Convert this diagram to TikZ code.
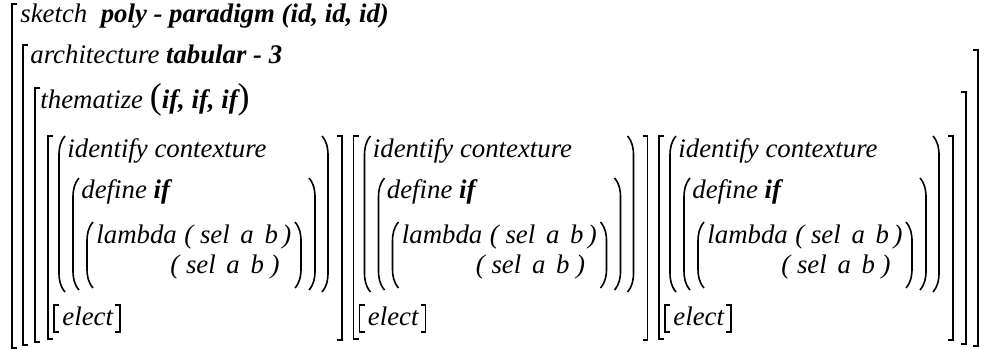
\documentclass[tikz,border=0pt]{standalone}
\usepackage{fontspec}
\setmainfont{Liberation Serif}[ItalicFont={Liberation Serif Italic}, BoldItalicFont={Liberation Serif Bold Italic}]

% square brackets and tall parentheses: x, top, bottom
\newcommand{\lbk}[3]{\draw[brk] ({#1+5},#2) -| ({#1},#3) -- ++(5,0);}
\newcommand{\rbk}[3]{\draw[brk] ({#1-5},#2) -| ({#1},#3) -- ++(-5,0);}
\newcommand{\lpn}[3]{\draw[prn] ({#1+6},#2) .. controls ({#1+1},{#2+6}) and ({#1},{#2+12}) .. ({#1},{#2+20})
  -- ({#1},{#3-20}) .. controls ({#1},{#3-12}) and ({#1+1},{#3-6}) .. ({#1+6},#3);}
\newcommand{\rpn}[3]{\draw[prn] ({#1-6},#2) .. controls ({#1-1},{#2+6}) and ({#1},{#2+12}) .. ({#1},{#2+20})
  -- ({#1},{#3-20}) .. controls ({#1},{#3-12}) and ({#1-1},{#3-6}) .. ({#1-6},#3);}

\begin{document}
\begin{tikzpicture}[
  x=0.5pt, y=-0.5pt,
  txt/.style={anchor=base west, inner sep=0pt, font=\fontsize{13.4}{15}\selectfont\itshape},
  brk/.style={line width=0.9pt},
  prn/.style={line width=0.8pt},
]
\useasboundingbox (0,0) rectangle (984,349);

% Header lines
\node[txt] (sketch) at (20,22) {sketch\ \ \textbf{poly - paradigm (id, id, id)}};
\node[txt] (arch) at (30,63) {architecture \textbf{tabular - 3}};
\node[txt] (them) at (40,108) {thematize {\fontsize{18}{18}\selectfont\upshape(}\textbf{if, if, if}{\fontsize{18}{18}\selectfont\upshape)}};

% Outer brackets
\draw[brk] (17,4) -| (12,348) -- ++(5,0);
\lbk{23}{45}{345}
\rbk{978}{50}{346}
\lbk{35}{88}{342}
\rbk{966}{92}{344}

% Three columns
\foreach \dx [count=\c] in {0,305.5,611}{
  \lbk{48+\dx}{136}{339}
  \rbk{342+\dx}{136}{340}
  \lpn{59+\dx}{136}{292}
  \rpn{328+\dx}{136}{292}
  \lpn{73+\dx}{178}{290}
  \rpn{315+\dx}{178}{290}
  \lpn{87+\dx}{222}{288}
  \rpn{301+\dx}{222}{288}
  \node[txt] (ident\c) at ({67+\dx},157) {identify contexture};
  \node[txt] (def\c) at ({81+\dx},198) {define \textbf{if}};
  \node[txt] (lam\c) at ({96+\dx},243) {lambda};
  \node[txt] (selA\c) at ({184+\dx},243) {( sel\hspace{0.4em}a\hspace{0.4em}b\,)};
  \node[txt] (selB\c) at ({170+\dx},273) {( sel\hspace{0.4em}a\hspace{0.4em}b )};
  \lbk{54+\dx}{305}{332}
  \node[txt] (elect\c) at ({62+\dx},325) {elect};
  \rbk{120+\dx}{305}{332}
}

\end{tikzpicture}
\end{document}
